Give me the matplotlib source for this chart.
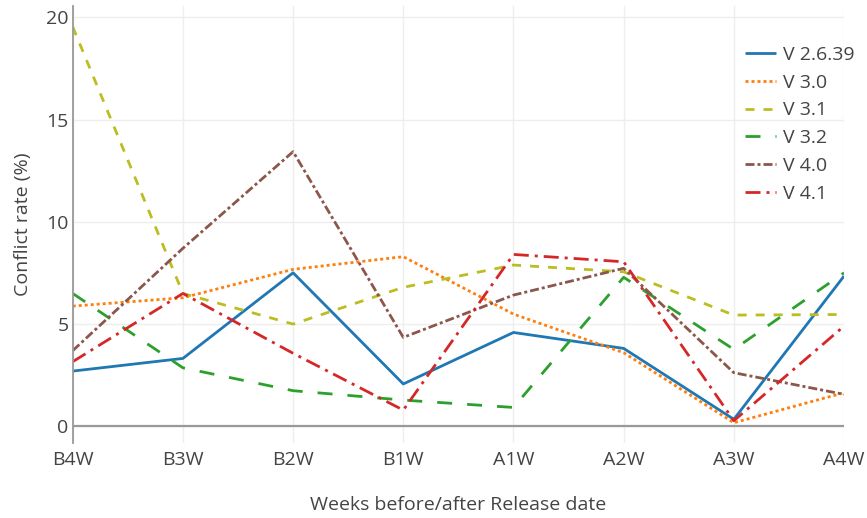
import matplotlib
matplotlib.use("Agg")
import matplotlib.pyplot as plt

weeks = ["B4W", "B3W", "B2W", "B1W", "A1W", "A2W", "A3W", "A4W"]
versions = ["V 2.6.39", "V 3.0", "V 3.1", "V 3.2", "V 4.0", "V 4.1"]

v2639 = [2.69, 3.31, 7.50, 2.06, 4.58, 3.80, 0.33, 7.34]
v30 = [5.87, 6.28, 7.67, 8.29, 5.48, 3.59, 0.16, 1.63]
v31 = [19.54, 6.49, 4.99, 6.79, 7.88, 7.55, 5.43, 5.46]
v32 = [6.49, 2.85, 1.73, 1.27, 0.91, 7.28, 3.75, 7.50]
v40 = [3.69, 8.70, 13.43, 4.34, 6.41, 7.72, 2.61, 1.55]
v41 = [3.15, 6.49, 3.56, 0.78, 8.40, 8.04, 0.26, 4.89]

series = [v2639, v30, v31, v32, v40, v41]
colors = ["#1f77b4", "#ff7f0e", "#bcbd22", "#2ca02c", "#8c564b", "#d62728"]

# plotly-like dash patterns (points), base unit ~3px
u = 2.16
dashes = [
    None,
    (u, u),
    (3 * u, 3 * u),
    (5 * u, 5 * u),
    (3 * u, u, u, u),
    (5 * u, 2 * u, u, 2 * u),
]

plt.rcParams["font.family"] = ["Open Sans", "DejaVu Sans"]
plt.rcParams["lines.scale_dashes"] = False
txt = "#444444"
fs = 14

fig = plt.figure(figsize=(8.67, 5.18), dpi=100)
ax = fig.add_axes([0.0839, 0.1448, 0.8896, 0.8436])

x = list(range(len(weeks)))
for name, vals, c, d in zip(versions, series, colors, dashes):
    kw = {} if d is None else {"dashes": d}
    ax.plot(x, vals, color=c, lw=2.0, label=name, solid_capstyle="butt", **kw)

ax.set_xlim(0, len(weeks) - 1)
ax.set_ylim(-0.83, 20.56)
ax.set_xticks(x)
ax.set_xticklabels(weeks)
ax.set_yticks([0, 5, 10, 15, 20])
ax.grid(True, color="#eeeeee", lw=1)
ax.set_axisbelow(True)
ax.axhline(0, color="#999999", lw=1.6, zorder=1.5)
for s in ["top", "right", "bottom"]:
    ax.spines[s].set_visible(False)
ax.spines["left"].set_color("#999999")
ax.spines["left"].set_linewidth(1.3)
ax.tick_params(length=0, labelsize=fs, colors=txt)
ax.tick_params(axis="y", pad=3)
ax.tick_params(axis="x", pad=6)

ax.set_xlabel("Weeks before/after Release date", fontsize=fs, color=txt, labelpad=19)
ax.set_ylabel("Conflict rate (%)", fontsize=fs, color=txt, labelpad=10)

leg = ax.legend(loc="upper left", bbox_to_anchor=(745 / 867, 1 - 46 / 518),
                bbox_transform=fig.transFigure, frameon=False, fontsize=fs,
                handlelength=1.6, handletextpad=0.35, labelspacing=0.5,
                borderpad=0, borderaxespad=0)
for t in leg.get_texts():
    t.set_color(txt)

fig.savefig("out.png", dpi=100)
